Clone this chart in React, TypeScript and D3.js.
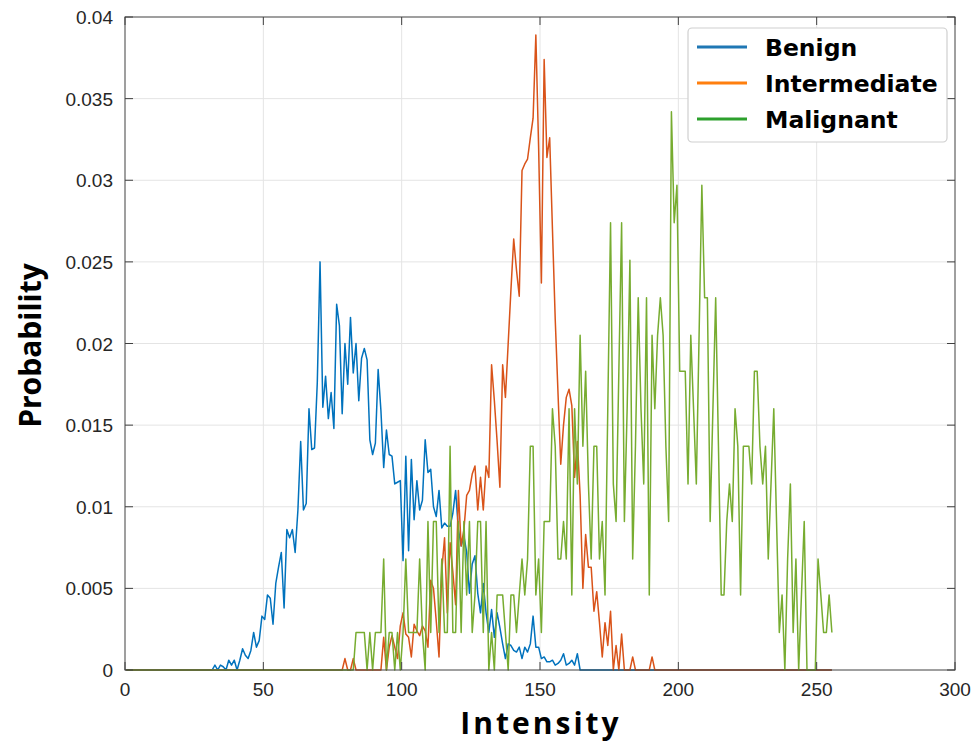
import React, { useEffect } from 'react';
import * as d3 from 'd3';

// histogram bins 0..255, plotted at bin centres (i + 0.5)
const benignStart = 32;
const benign = [
  0.0003, 0, 0.0003, 0.0002, 0, 0.0006, 0.0003, 0.0006, 0, 0.0006,
  0.0013, 0.0009, 0.0007, 0.0012, 0.0023, 0.0014, 0.0018, 0.0033, 0.0031, 0.0046,
  0.0044, 0.0028, 0.0053, 0.0063, 0.0072, 0.0038, 0.0086, 0.0081, 0.0086, 0.0072,
  0.0098, 0.014, 0.0098, 0.0102, 0.016, 0.0135, 0.0136, 0.0176, 0.025, 0.0161,
  0.018, 0.0154, 0.017, 0.0148, 0.0224, 0.0211, 0.0157, 0.02, 0.0175, 0.0216,
  0.0182, 0.02, 0.0165, 0.0191, 0.0197, 0.019, 0.0141, 0.0132, 0.0139, 0.0184,
  0.0159, 0.0124, 0.0147, 0.0132, 0.0131, 0.0114, 0.0115, 0.0116, 0.0067, 0.0131,
  0.0073, 0.0129, 0.0092, 0.0116, 0.0098, 0.0104, 0.0141, 0.0121, 0.0123, 0.01,
  0.0094, 0.011, 0.0087, 0.009, 0.0088, 0.0088, 0.0096, 0.011, 0.0086, 0.0076,
  0.0082, 0.0072, 0.0047, 0.0065, 0.007, 0.0047, 0.0035, 0.0053, 0.0035, 0.0023,
  0.0037, 0.002, 0.0035, 0.0026, 0.0016, 0.0007, 0.0016, 0.0015, 0.0012, 0.0011,
  0.0014, 0.0007, 0.0014, 0.0011, 0.0016, 0.0033, 0.0014, 0.0014, 0.0007, 0.0008,
  0.0005, 0.0005, 0.0006, 0.0003, 0.0004, 0.0006, 0.001, 0.0003, 0.0004, 0.0006,
  0.0003, 0.001, 0
];

const intermediateStart = 79;
const intermediate = [
  0.0007, 0, 0, 0.0007, 0, 0, 0, 0, 0, 0,
  0, 0, 0, 0, 0.002, 0, 0.0014, 0.0021, 0.0014, 0.0007,
  0.0027, 0.0035, 0.0022, 0.002, 0.0008, 0.0028, 0.0024, 0.0021, 0.0027, 0.0024,
  0.0014, 0.0055, 0.005, 0.003, 0.0008, 0.0061, 0.0081, 0.0035, 0.0078, 0.006,
  0.004, 0.011, 0.0076, 0.0086, 0.0107, 0.011, 0.012, 0.0125, 0.0098, 0.0118,
  0.0098, 0.0125, 0.0118, 0.0187, 0.0165, 0.014, 0.0112, 0.0187, 0.0167, 0.02,
  0.0233, 0.0264, 0.0245, 0.0229, 0.0306, 0.031, 0.0313, 0.0326, 0.0338, 0.0389,
  0.032, 0.0237, 0.0374, 0.0314, 0.0326, 0.027, 0.0215, 0.017, 0.0126, 0.015,
  0.0167, 0.0172, 0.0162, 0.0118, 0.014, 0.0107, 0.005, 0.0083, 0.0063, 0.0063,
  0.0036, 0.0048, 0.0029, 0.0008, 0.0029, 0.0015, 0.0036, 0, 0.0015, 0,
  0.0022, 0, 0, 0, 0.0008, 0, 0, 0, 0, 0,
  0, 0.0008, 0
];

const malignantStart = 83;
const malignant = [
  0.0023, 0.0023, 0.0023, 0.0023, 0, 0.0023, 0, 0.0023, 0.0023, 0.0023,
  0.0068, 0, 0.0023, 0.0023, 0, 0.0023, 0, 0.0023, 0.0068, 0.0023,
  0.0023, 0.0023, 0.0023, 0.0068, 0.0023, 0, 0.0091, 0.0023, 0.0091, 0.0091,
  0.0023, 0.0068, 0.0023, 0.0023, 0.0137, 0.0023, 0.0023, 0.0091, 0.0023, 0.0091,
  0.0046, 0.0091, 0.0023, 0.0046, 0.0091, 0.0091, 0.0023, 0.0091, 0, 0.0023,
  0, 0.0046, 0.0046, 0.0046, 0.0023, 0, 0.0046, 0.0046, 0.0023, 0.0046,
  0.0068, 0.0046, 0.0068, 0.0137, 0.0137, 0.0046, 0.0068, 0.0023, 0.0091, 0.0091,
  0.0091, 0.016, 0.0137, 0.0068, 0.0068, 0.0091, 0.0068, 0.016, 0.0046, 0.016,
  0.0114, 0.0205, 0.0137, 0.0183, 0.0114, 0.0068, 0.0137, 0.0137, 0.0068, 0.0091,
  0.0046, 0.016, 0.0274, 0.0114, 0.0091, 0.0183, 0.0274, 0.0091, 0.016, 0.0251,
  0.0068, 0.0137, 0.0228, 0.016, 0.0114, 0.0228, 0.0046, 0.0205, 0.016, 0.0205,
  0.0228, 0.0205, 0.0137, 0.0091, 0.0342, 0.0274, 0.0297, 0.0183, 0.0183, 0.0183,
  0.0114, 0.0205, 0.016, 0.0114, 0.0205, 0.0297, 0.0228, 0.0228, 0.0091, 0.016,
  0.0228, 0.0137, 0.0046, 0.0046, 0.0091, 0.0114, 0.0091, 0.016, 0.0137, 0.0046,
  0.0137, 0.0137, 0.0137, 0.0114, 0.0183, 0.0183, 0.0137, 0.0114, 0.0137, 0.0068,
  0.0114, 0.016, 0.0091, 0.0023, 0.0046, 0, 0.0068, 0.0114, 0.0023, 0.0068,
  0, 0.0046, 0.0091, 0, 0, 0, 0, 0.0068, 0.0046, 0.0023,
  0.0023, 0.0046, 0.0023
];

const xTicks = [0, 50, 100, 150, 200, 250, 300];
const yTicks = [0, 0.005, 0.01, 0.015, 0.02, 0.025, 0.03, 0.035, 0.04];
const yTickLabels = ['0', '0.005', '0.01', '0.015', '0.02', '0.025', '0.03', '0.035', '0.04'];

const seriesNames = ['Benign', 'Intermediate', 'Malignant'];
const lineColors = ['#0072BD', '#D95319', '#77AC30'];
const legendColors = ['#1f77b4', '#ff7f0e', '#2ca02c'];

const binCount = 256;

function toPoints(start: number, values: number[]) {
  const pts: [number, number][] = [];
  for (let i = 0; i < binCount; i++) {
    const v = i >= start && i < start + values.length ? values[i - start] : 0;
    pts.push([i + 0.5, v]);
  }
  return pts;
}

const App = () => {
  useEffect(() => {
    document.body.style.margin = '0';
  }, []);

  const W = 977;
  const H = 743;
  const left = 125, right = 955, top = 17, bottom = 670;

  const x = d3.scaleLinear().domain([0, 300]).range([left, right]);
  const y = d3.scaleLinear().domain([0, 0.04]).range([bottom, top]);

  const line = d3.line<[number, number]>()
    .x(d => x(d[0]))
    .y(d => y(d[1]));

  const series = [
    toPoints(benignStart, benign),
    toPoints(intermediateStart, intermediate),
    toPoints(malignantStart, malignant),
  ];

  const axisColor = '#404040';
  const gridColor = '#e4e4e4';
  const tickLen = 8;
  const tickFont = "'Liberation Sans', Arial, sans-serif";

  return (
    <svg width={W} height={H} style={{ display: 'block', background: '#fff' }}>
      {/* grid */}
      {xTicks.slice(1, -1).map(t => (
        <line key={'gx' + t} x1={x(t)} x2={x(t)} y1={top} y2={bottom} stroke={gridColor} strokeWidth={1} />
      ))}
      {yTicks.slice(1, -1).map(t => (
        <line key={'gy' + t} x1={left} x2={right} y1={y(t)} y2={y(t)} stroke={gridColor} strokeWidth={1} />
      ))}

      {/* data */}
      {series.map((pts, i) => (
        <path key={seriesNames[i]} d={line(pts) || ''} fill="none" stroke={lineColors[i]}
          strokeWidth={1.5} strokeLinejoin="round" />
      ))}

      {/* box + ticks */}
      <rect x={left} y={top} width={right - left} height={bottom - top} fill="none" stroke={axisColor} strokeWidth={1} />
      {xTicks.map(t => (
        <g key={'tx' + t}>
          <line x1={x(t)} x2={x(t)} y1={bottom} y2={bottom - tickLen} stroke={axisColor} />
          <line x1={x(t)} x2={x(t)} y1={top} y2={top + tickLen} stroke={axisColor} />
          <text x={x(t)} y={bottom + 26} textAnchor="middle" fontFamily={tickFont}
            fontSize={19} fill="#262626">{t}</text>
        </g>
      ))}
      {yTicks.map((t, i) => (
        <g key={'ty' + t}>
          <line x1={left} x2={left + tickLen} y1={y(t)} y2={y(t)} stroke={axisColor} />
          <line x1={right} x2={right - tickLen} y1={y(t)} y2={y(t)} stroke={axisColor} />
          <text x={left - 12} y={y(t) + 7} textAnchor="end" fontFamily={tickFont}
            fontSize={19} fill="#262626">{yTickLabels[i]}</text>
        </g>
      ))}

      {/* axis labels */}
      <text x={541} y={734} textAnchor="middle" fontFamily="'Open Sans', sans-serif"
        fontWeight={700} fontSize={30} letterSpacing={3} fill="#000">Intensity</text>
      <text transform={`translate(41, ${(top + bottom) / 2 + 2}) rotate(-90)`} textAnchor="middle"
        fontFamily="'Open Sans', sans-serif" fontWeight={700} fontSize={30} fill="#000">Probability</text>

      {/* legend */}
      <rect x={688} y={28} width={259} height={114} rx={4} fill="#fff" stroke="#cfcfcf" strokeWidth={1.2} />
      {seriesNames.map((name, i) => (
        <g key={'lg' + name}>
          <line x1={697} x2={747} y1={47 + i * 36} y2={47 + i * 36} stroke={legendColors[i]} strokeWidth={3} />
          <text x={765} y={56 + i * 36} fontFamily="'DejaVu Sans', sans-serif" fontWeight={700}
            fontSize={23.5} fill="#000">{name}</text>
        </g>
      ))}
    </svg>
  );
};

export default App;
